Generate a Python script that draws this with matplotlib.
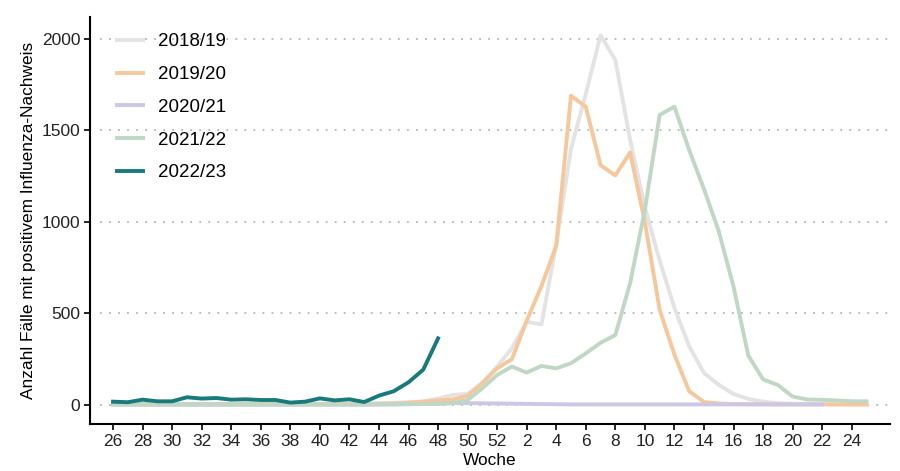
import matplotlib.pyplot as plt

plt.rcParams['font.family'] = ['Liberation Sans', 'DejaVu Sans']

# season weeks: 26..52, then 1..25
weeks = list(range(26, 53)) + list(range(1, 26))
tick_weeks = list(range(26, 53, 2)) + list(range(2, 25, 2))

s2018 = [5, 5, 4, 4, 4, 4, 4, 4, 3, 3, 3, 4, 4, 5, 5, 6, 7, 8, 10, 12, 15, 20, 35,
         55, 60, 120, 210, 310, 455, 440, 880, 1400, 1700, 2020, 1885, 1450, 1080,
         790, 530, 320, 175, 110, 60, 33, 18, 10, 7, 5, 4, 3, 3, 3]
s2019 = [5, 5, 5, 5, 5, 5, 5, 5, 5, 5, 5, 5, 5, 5, 5, 5, 5, 5, 6, 8, 12, 18, 25,
         30, 50, 120, 200, 250, 460, 650, 870, 1690, 1630, 1310, 1255, 1380, 1000,
         520, 275, 75, 16, 8, 5, 4, 4, 3, 3, 3, 3, 3, 3, 3]
s2020 = [1, 1, 1, 1, 1, 1, 1, 1, 1, 1, 1, 1, 1, 1, 1, 1, 1, 1, 2, 3, 4, 6, 8,
         10, 10, 9, 8, 7, 6, 5, 4, 3, 3, 3, 3, 3, 3, 3, 3, 3, 3, 3, 3, 3, 3, 3,
         3, 3, 3]
s2021 = [4, 4, 4, 4, 4, 4, 4, 4, 4, 4, 4, 4, 4, 4, 4, 4, 4, 4, 4, 4, 5, 5, 6,
         10, 27, 92, 164, 210, 177, 213, 200, 228, 282, 340, 382, 665, 1066, 1585,
         1630, 1393, 1180, 950, 647, 270, 140, 109, 46, 30, 28, 25, 20, 20]
s2022 = [18, 15, 29, 20, 20, 42, 35, 38, 29, 31, 27, 27, 13, 18, 36, 25, 31, 16,
         51, 75, 124, 193, 364]

seasons = ['2018/19', '2019/20', '2020/21', '2021/22', '2022/23']
colors = ['#e3e3e3', '#f6c79b', '#cbc7e4', '#bfd7c4', '#197a7b']
series = [s2018, s2019, s2020, s2021, s2022]

fig = plt.figure(figsize=(9, 4.71), dpi=100)
ax = fig.add_axes([0.1, 0.0998, 0.889, 0.864])

for vals, col, lab in zip(series, colors, seasons):
    ax.plot(range(len(vals)), vals, color=col, lw=2.8, label=lab,
            solid_joinstyle='round')

for y in range(0, 2001, 500):
    ax.plot([-0.9, 52.6], [y, y], color='#b5b5b5', lw=1.3,
            linestyle=(0, (1, 4)), zorder=0)

ax.set_xlim(-1.56, 52.6)
ax.set_ylim(-104, 2120)
ax.set_xticks([weeks.index(w) for w in tick_weeks])
ax.set_xticklabels([str(w) for w in tick_weeks])
ax.set_yticks([0, 500, 1000, 1500, 2000])
ax.tick_params(axis='both', labelsize=12.5, length=4, width=1.2, color='black',
               labelcolor='#222222', pad=3)
for side in ['top', 'right']:
    ax.spines[side].set_visible(False)
for side in ['left', 'bottom']:
    ax.spines[side].set_linewidth(1.5)

ax.set_xlabel('Woche', fontsize=12.4, labelpad=3)
ax.set_ylabel('Anzahl Fälle mit positivem Influenza-Nachweis', fontsize=12.4,
              labelpad=4)

ax.legend(loc='upper left', bbox_to_anchor=(0.034, 0.96), frameon=False,
          fontsize=13.5, handlelength=1.4, handletextpad=0.8, labelspacing=0.83,
          borderpad=0, borderaxespad=0)

fig.savefig('out.png', dpi=100)
